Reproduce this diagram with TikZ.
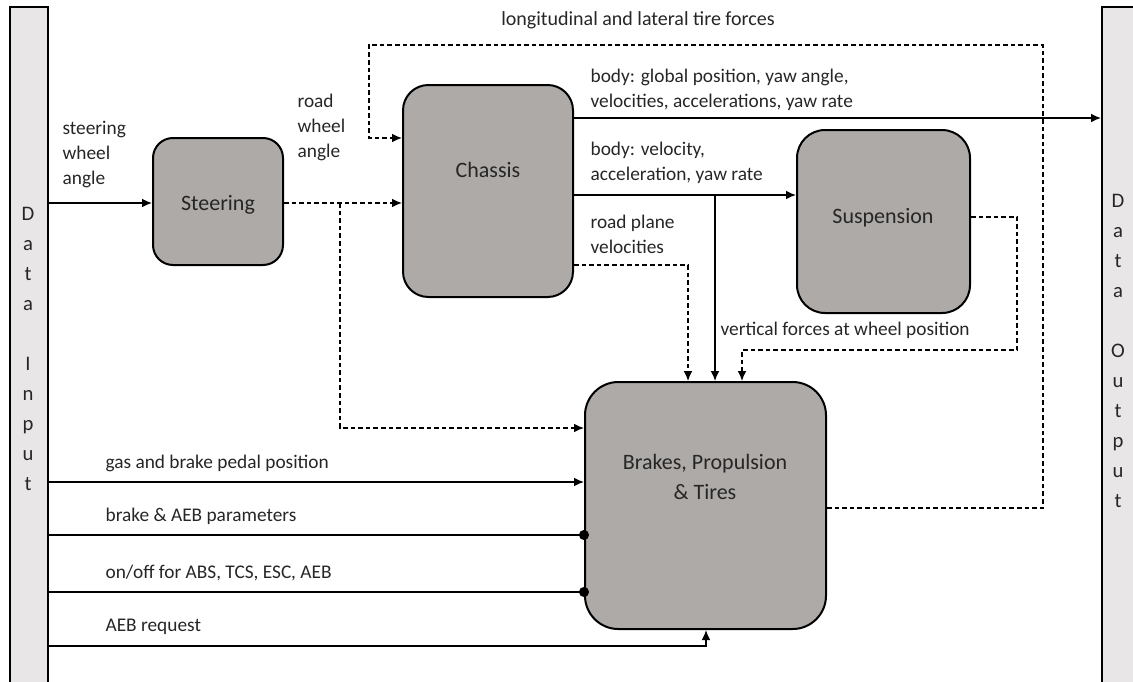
\documentclass[tikz,border=0pt]{standalone}
\usepackage{fontspec}
\setmainfont{Carlito}
\usetikzlibrary{arrows.meta,shapes.misc}
\definecolor{boxgray}{RGB}{174,170,167}
\definecolor{bargray}{RGB}{232,230,230}
\begin{document}
\begin{tikzpicture}[x=0.75pt, y=-0.75pt, >={Latex[length=7.5pt,width=6.5pt]},
  line width=0.9pt,
  blockbox/.style={draw, line width=1.5pt, fill=boxgray, inner sep=0pt},
  blocktext/.style={font=\fontsize{16.5}{23}\selectfont, text=black!85, align=center},
  databar/.style={draw, line width=1.5pt, fill=bargray, inner sep=0pt, minimum height=520.5pt},
  bartext/.style={font=\fontsize{15.5}{22.5}\selectfont, text=black!85, align=center},
  sig/.style={font=\fontsize{14.5}{18.75}\selectfont, text=black!85, anchor=west, align=left, inner sep=0pt},
  dashline/.style={dash pattern=on 3.5pt off 2.2pt},
  dotend/.style={-{Circle[length=7.5pt]}, shorten >=-3.75pt},
  every path/.style={line cap=butt}]
  \useasboundingbox (0,0) rectangle (1133,682);

  % data input / output bars
  \node[databar, chamfered rectangle, chamfered rectangle corners=north east,
        chamfered rectangle xsep=6pt, minimum width=28.5pt] (din) at (29,353.5) {};
  \node[databar, minimum width=36pt] (dout) at (1126,353.5) {};
  \node[bartext] (din-t) at (28,349) {D\\a\\t\\a\\~\\I\\n\\p\\u\\t};
  \node[bartext] (dout-t) at (1118,351) {D\\a\\t\\a\\~\\O\\u\\t\\p\\u\\t};

  % blocks
  \node[blockbox, rounded corners=15pt, minimum width=97.5pt, minimum height=95.25pt] (steer) at (218,201.5) {};
  \node[blockbox, rounded corners=19pt, minimum width=127.5pt, minimum height=159pt] (chassis) at (488,191) {};
  \node[blockbox, rounded corners=21pt, minimum width=129.75pt, minimum height=137.25pt] (susp) at (883.5,221.5) {};
  \node[blockbox, rounded corners=25pt, minimum width=180.75pt, minimum height=185.25pt] (brakes) at (705.5,505.5) {};
  \node[blocktext] (steer-t) at (218,205) {Steering};
  \node[blocktext] (chassis-t) at (488,170) {Chassis};
  \node[blocktext] (susp-t) at (883,218) {Suspension};
  \node[blocktext] (brakes-t) at (705,477) {Brakes, Propulsion\\\& Tires};

  % steering wheel angle
  \draw[->] (din.east |- 0,203) -- (steer.west |- 0,203);
  \node[sig] (swa) at (62,155) {steering\\wheel\\angle};

  % road wheel angle
  \coordinate (rwa) at (340,203);
  \draw[dashline,->] (steer.east |- 0,203) -- (chassis.west |- 0,203);
  \draw[dashline,->] (rwa) |- (brakes.west |- 0,428);
  \node[sig] (rwa-t) at (297,127) {road\\wheel\\angle};

  % longitudinal and lateral tire forces
  \draw[dashline,->] (brakes.east |- 0,508) -| (1043,45) -| (369,138) -- (chassis.west |- 0,138);
  \node[sig, anchor=center, font=\fontsize{15}{18.75}\selectfont] (ltf) at (638,20) {longitudinal and lateral tire forces};

  % body outputs
  \draw[->] (chassis.east |- 0,118) -- (dout.west |- 0,118);
  \node[sig] (bgp) at (590,90) {body: global position, yaw angle,\\velocities, accelerations, yaw rate};
  \coordinate (bv) at (715,195);
  \draw[->] (chassis.east |- 0,195) -- (susp.west |- 0,195);
  \draw[->] (bv) -- (bv |- brakes.north);
  \node[sig] (bvl) at (590,163) {body: velocity,\\acceleration, yaw rate};

  % road plane velocities
  \draw[dashline,->] (chassis.east |- 0,265) -| (brakes.north -| 688,0);
  \node[sig] (rpv) at (590,234) {road plane\\velocities};

  % vertical forces
  \draw[dashline,->] (susp.east |- 0,217) -| (1017,350) -| (brakes.north -| 742,0);
  \node[sig] (vfw) at (720,330) {vertical forces at wheel position};

  % driver and system inputs
  \draw[->] (din.east |- 0,482) -- (brakes.west |- 0,482);
  \node[sig] (gbp) at (105,463) {gas and brake pedal position};
  \draw[dotend] (din.east |- 0,535) -- (brakes.west |- 0,535);
  \node[sig] (aebp) at (105,516) {brake \& AEB parameters};
  \draw[dotend] (din.east |- 0,592) -- (brakes.west |- 0,592);
  \node[sig] (onoff) at (105,573) {on/off for ABS, TCS, ESC, AEB};
  \draw[->] (din.east |- 0,646) -| (brakes.south -| 706,0);
  \node[sig] (aebr) at (105,627) {AEB request};

\end{tikzpicture}
\end{document}
